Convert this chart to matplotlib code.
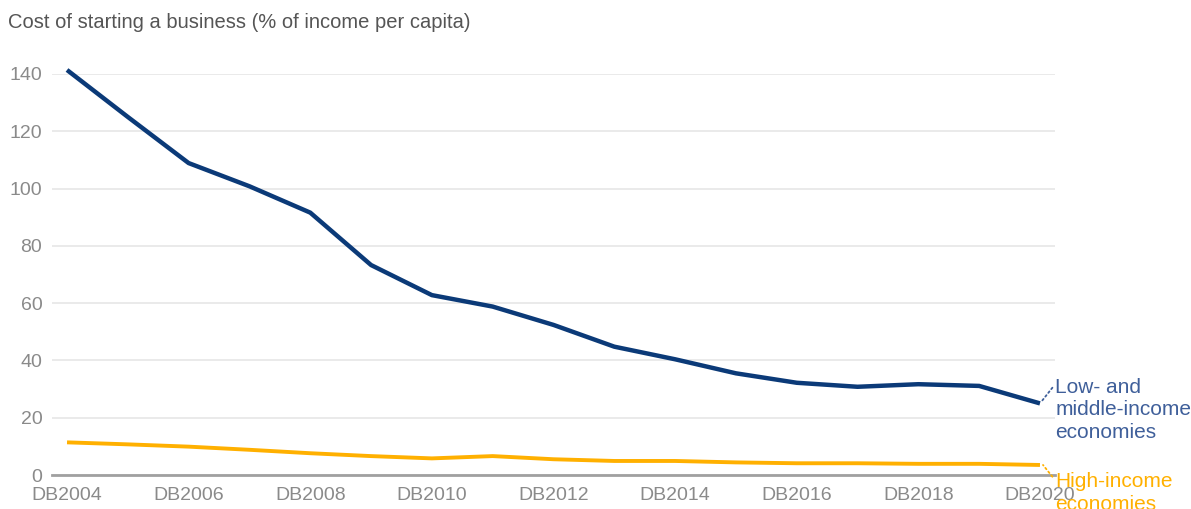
import matplotlib.pyplot as plt

plt.rcParams['font.family'] = ['Liberation Sans', 'DejaVu Sans']

years = ['DB%d' % y for y in range(2004, 2021)]
low_middle = [141.4, 125.0, 108.9, 100.8, 91.6, 73.3, 62.8, 58.8, 52.4, 44.8,
              40.4, 35.5, 32.2, 30.8, 31.7, 31.1, 25.0]
high = [11.4, 10.7, 9.9, 8.8, 7.6, 6.6, 5.8, 6.6, 5.5, 4.9,
        4.9, 4.4, 4.1, 4.1, 3.9, 3.9, 3.5]
yticks = [0, 20, 40, 60, 80, 100, 120, 140]

blue = '#0b3a78'
gold = '#ffb000'

fig = plt.figure(figsize=(11.91, 5.09), dpi=100)
ax = fig.add_axes([52 / 1191, 1 - 475 / 509, (1055 - 52) / 1191, (475 - 74) / 509])

x = list(range(len(years)))
ax.plot(x, low_middle, color=blue, lw=3.2, solid_capstyle='butt', zorder=3, clip_on=False)
ax.plot(x, high, color=gold, lw=2.8, solid_capstyle='butt', zorder=3, clip_on=False)

ax.set_xlim(-0.247, len(years) - 1 + 0.247)
ax.set_ylim(0, 140)
ax.set_yticks(yticks)
ax.set_xticks(x[::2])
ax.set_xticklabels(years[::2])
ax.tick_params(axis='both', length=0, labelsize=14, colors='#8a8a8a')
ax.tick_params(axis='y', pad=7)
ax.tick_params(axis='x', pad=9)
ax.grid(axis='y', color='#e6e6e6', lw=1.2)
ax.set_axisbelow(True)
for s in ['top', 'right', 'left']:
    ax.spines[s].set_visible(False)
ax.spines['bottom'].set_color('#a0a0a0')
ax.spines['bottom'].set_linewidth(2)
ax.spines['bottom'].set_zorder(2)

# end labels with small dotted leaders
last = len(years) - 1
ax.annotate('Low- and\nmiddle-income\neconomies', xy=(last + 0.03, low_middle[-1] + 0.8),
            xytext=(last + 0.25, 22.7), fontsize=15, color='#3f5f9a',
            va='center', ha='left', linespacing=1.25, annotation_clip=False,
            arrowprops=dict(arrowstyle='-', ls=':', color='#3f5f9a', lw=1.3,
                            shrinkA=0, shrinkB=0, relpos=(0, 0.9)))
ax.annotate('High-income\neconomies', xy=(last + 0.05, high[-1]),
            xytext=(last + 0.25, -6.2), fontsize=15, color=gold,
            va='center', ha='left', linespacing=1.25, annotation_clip=False,
            arrowprops=dict(arrowstyle='-', ls=':', color=gold, lw=1.3,
                            shrinkA=0, shrinkB=0, relpos=(0, 0.8)))

fig.text(8 / 1191, 1 - 22 / 509, 'Cost of starting a business (% of income per capita)',
         fontsize=14.5, color='#555555', va='center', ha='left')

fig.savefig('out.png', dpi=100, facecolor='white')
